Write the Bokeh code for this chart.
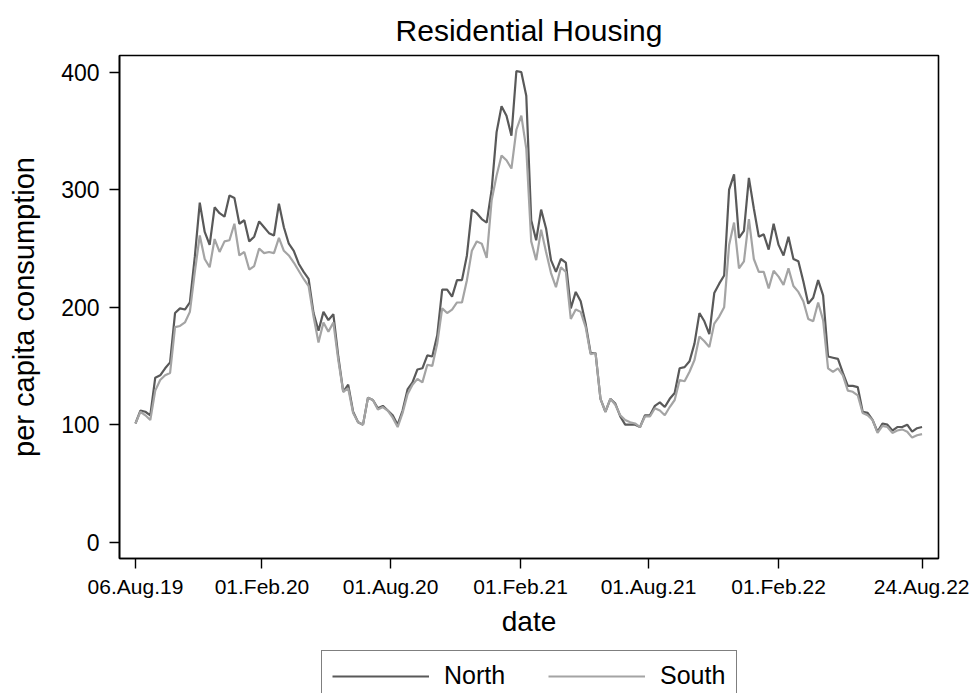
import pandas as pd
from bokeh.plotting import figure
from bokeh.layouts import column
from bokeh.models import (Range1d, FixedTicker, DatetimeTickFormatter,
                          Legend, LegendItem, ColumnDataSource)
from bokeh.embed import file_html
from bokeh.resources import INLINE

# Weekly per capita consumption, residential housing
first_week = "2019-08-06"

north = [
    101, 112, 111, 108, 140, 142, 148, 153, 195, 199,
    198, 204, 243, 289, 264, 253, 285, 280, 277, 295,
    293, 271, 274, 256, 260, 273, 268, 263, 261, 288,
    268, 254, 248, 237, 230, 224, 195, 180, 196, 189,
    194, 158, 128, 134, 111, 102, 100, 123, 121, 114,
    116, 112, 108, 100, 112, 130, 136, 147, 148, 159,
    158, 176, 215, 215, 209, 223, 223, 244, 283, 280,
    275, 272, 300, 349, 371, 363, 346, 401, 400, 380,
    274, 257, 283, 267, 240, 230, 241, 238, 199, 213,
    205, 186, 161, 161, 122, 111, 122, 118, 107, 100,
    100, 100, 98, 108, 108, 116, 119, 115, 122, 127,
    148, 149, 154, 169, 195, 188, 177, 212, 220, 227,
    300, 313, 259, 265, 310, 284, 260, 262, 249, 271,
    253, 244, 260, 241, 239, 222, 203, 208, 223, 210,
    158, 157, 156, 144, 133, 133, 132, 111, 110, 104,
    94, 101, 100, 95, 98, 98, 100, 94, 97, 98,
]

south = [
    101, 111, 108, 104, 129, 138, 142, 144, 183, 184,
    187, 196, 230, 261, 241, 234, 258, 247, 256, 257,
    271, 244, 247, 232, 235, 250, 246, 247, 246, 259,
    248, 244, 238, 231, 224, 218, 192, 170, 187, 179,
    187, 155, 128, 131, 110, 102, 100, 123, 121, 113,
    115, 112, 106, 98, 110, 126, 134, 139, 136, 151,
    150, 169, 199, 195, 198, 204, 204, 223, 248, 256,
    254, 242, 291, 312, 329, 325, 318, 351, 363, 335,
    256, 240, 266, 247, 229, 217, 234, 230, 190, 198,
    196, 183, 160, 161, 122, 111, 122, 117, 108, 104,
    102, 101, 98, 107, 107, 114, 112, 108, 115, 121,
    138, 137, 145, 155, 175, 171, 166, 186, 192, 200,
    253, 272, 233, 239, 275, 241, 230, 230, 216, 231,
    226, 219, 233, 218, 213, 205, 190, 188, 204, 189,
    148, 145, 148, 142, 129, 128, 125, 110, 108, 104,
    93, 99, 98, 93, 95, 96, 94, 89, 91, 92,
]

series_names = ["North", "South"]
tick_dates = ["2019-08-06", "2020-02-01", "2020-08-01",
              "2021-02-01", "2021-08-01", "2022-02-01", "2022-08-24"]
y_ticks = [0, 100, 200, 300, 400]

dates = pd.date_range(first_week, periods=len(north), freq="7D")


def to_ms(stamps):
    return [int((pd.Timestamp(s) - pd.Timestamp("1970-01-01"))
                // pd.Timedelta(milliseconds=1)) for s in stamps]


FONT = "Liberation Sans"
COLORS = ["#595959", "#a4a4a4"]
LINE_W = 2.2

# ---- main chart -----------------------------------------------------------
p = figure(
    width=969, height=650,
    x_axis_type="datetime",
    x_range=Range1d(pd.Timestamp("2019-07-14 10:00"),
                    pd.Timestamp("2022-09-15 07:00")),
    y_range=Range1d(-13.9, 414.2),
    output_backend="svg", toolbar_location=None,
    min_border_left=119, min_border_right=31,
    min_border_top=55, min_border_bottom=92,
    background_fill_color="white", border_fill_color="white",
)

p.title.text = "Residential Housing"
p.title.align = "center"
p.title.text_font = FONT
p.title.text_font_size = "30px"
p.title.text_font_style = "normal"
p.title.text_color = "black"
p.title.standoff = 17

p.xgrid.visible = False
p.ygrid.visible = False
p.outline_line_color = "black"
p.outline_line_width = 1.6
p.outline_line_alpha = 1.0

p.line(dates, north, line_color=COLORS[0], line_width=LINE_W)
p.line(dates, south, line_color=COLORS[1], line_width=LINE_W)

# x axis
xa = p.xaxis[0]
xa.ticker = FixedTicker(ticks=to_ms(tick_dates))
fmt = "%d.%b.%y"
xa.formatter = DatetimeTickFormatter(
    milliseconds=fmt, seconds=fmt, minsec=fmt, minutes=fmt, hourmin=fmt,
    hours=fmt, days=fmt, months=fmt, years=fmt)
xa.axis_label = "date"
xa.major_label_text_font_size = "21px"
xa.axis_label_text_font_size = "28px"
xa.major_label_standoff = 6
xa.axis_label_standoff = 5

# y axis
ya = p.yaxis[0]
ya.ticker = FixedTicker(ticks=y_ticks)
ya.axis_label = "per capita consumption"
ya.major_label_text_font_size = "23px"
ya.axis_label_text_font_size = "29px"
ya.major_label_standoff = 10
ya.axis_label_standoff = 18
ya.major_label_orientation = "horizontal"

for ax in (xa, ya):
    ax.major_label_text_font = FONT
    ax.axis_label_text_font = FONT
    ax.axis_label_text_font_style = "normal"
    ax.major_label_text_color = "black"
    ax.axis_label_text_color = "black"
    ax.axis_line_color = "black"
    ax.axis_line_width = 1.6
    ax.major_tick_line_color = "black"
    ax.major_tick_line_width = 1.4
    ax.major_tick_in = 0
    ax.major_tick_out = 10
    ax.minor_tick_line_color = None

# ---- legend strip under the chart ----------------------------------------
leg_fig = figure(
    width=969, height=43,
    x_range=Range1d(0, 1), y_range=Range1d(0, 1),
    x_axis_location=None, y_axis_location=None,
    output_backend="svg", toolbar_location=None,
    min_border_left=0, min_border_right=0,
    min_border_top=0, min_border_bottom=0,
    background_fill_color="white", border_fill_color="white",
)
leg_fig.outline_line_color = None
leg_fig.xgrid.visible = False
leg_fig.ygrid.visible = False

# one-point line renderers: they carry the legend swatches, draw nothing
items = []
for name, color in zip(series_names, COLORS):
    r = leg_fig.line("x", "y", source=ColumnDataSource(dict(x=[0], y=[0])),
                     line_color=color, line_width=LINE_W)
    items.append(LegendItem(label=name, renderers=[r]))

legend = Legend(
    items=items,
    orientation="horizontal",
    location=(202, -8),
    margin=0,
    padding=10,
    spacing=38,
    glyph_width=97,
    glyph_height=26,
    label_width=66,
    label_standoff=15,
    label_text_font=FONT,
    label_text_font_size="25px",
    label_text_color="black",
    border_line_color="black",
    border_line_width=1.2,
    background_fill_color="white",
    background_fill_alpha=1.0,
)
leg_fig.add_layout(legend)

layout = column(p, leg_fig, spacing=0)

with open("out.html", "w") as f:
    f.write(file_html(layout, INLINE))
